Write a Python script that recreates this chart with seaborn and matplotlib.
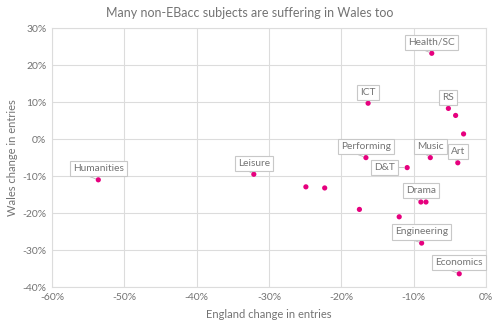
import matplotlib
matplotlib.use("Agg")
import matplotlib.pyplot as plt
import seaborn as sns
import pandas as pd
from matplotlib.ticker import FuncFormatter

subjects = ["Health/SC", "ICT", "RS", "", "", "Music", "Art", "Performing", "D&T",
            "", "", "Leisure", "Drama", "", "", "", "Engineering", "Economics", "Humanities"]
england = [-7.5, -16.3, -5.2, -4.2, -3.1, -7.7, -3.9, -16.6, -10.9,
           -24.9, -22.3, -32.1, -9.0, -8.3, -17.5, -12.0, -8.9, -3.7, -53.6]
wales = [23.2, 9.7, 8.3, 6.4, 1.4, -5.0, -6.4, -5.0, -7.7,
         -12.9, -13.2, -9.5, -17.0, -17.0, -19.0, -21.0, -28.1, -36.4, -11.0]

x_ticks = [-60, -50, -40, -30, -20, -10, 0]
y_ticks = [-40, -30, -20, -10, 0, 10, 20, 30]

df = pd.DataFrame({"subject": subjects, "england": england, "wales": wales})

sns.set_theme(style="white")
plt.rcParams["font.family"] = ["Lato", "DejaVu Sans"]

grey = "#737373"
gridc = "#dcdcdc"
pink = "#e6007e"

fig = plt.figure(figsize=(5, 3.27), dpi=100)
ax = fig.add_axes([0.104, 0.122, 0.868, 0.792])

sns.scatterplot(data=df, x="england", y="wales", ax=ax, color=pink, s=14,
                edgecolor="none", zorder=3)

ax.set_xlim(-60, 0)
ax.set_ylim(-40, 30)
ax.set_xticks(x_ticks)
ax.set_yticks(y_ticks)
fmt = FuncFormatter(lambda v, p: f"{int(v)}%")
ax.xaxis.set_major_formatter(fmt)
ax.yaxis.set_major_formatter(fmt)
ax.grid(True, color=gridc, lw=0.8)
ax.set_axisbelow(True)
for s in ax.spines.values():
    s.set_color(gridc)
    s.set_linewidth(0.8)
ax.tick_params(axis="both", length=0, labelsize=7.5, colors=grey, pad=4)

ax.set_xlabel("England change in entries", fontsize=8, color=grey, labelpad=5)
ax.set_ylabel("Wales change in entries", fontsize=8, color=grey, labelpad=3)
fig.suptitle("Many non-EBacc subjects are suffering in Wales too", x=0.5, y=0.98,
             fontsize=9, color=grey, va="top")

for name, ex, wy in zip(subjects, england, wales):
    if not name:
        continue
    if name == "D&T":
        off, ha, va, rel = (-16.5, 0), "center", "center", (1.0, 0.5)
    else:
        off, ha, va, rel = (0, 8), "center", "center", (0.15, 0.0)
    ax.annotate(name, xy=(ex, wy), xytext=off, textcoords="offset points",
                ha=ha, va=va, fontsize=7.3, color=grey, zorder=4,
                bbox=dict(boxstyle="square,pad=0.3", fc="white", ec="#c8c8c8", lw=0.8),
                arrowprops=dict(arrowstyle="-", color="#bbbbbb", lw=0.6,
                                relpos=rel, shrinkA=0, shrinkB=2))

fig.savefig("out.png", dpi=100)
